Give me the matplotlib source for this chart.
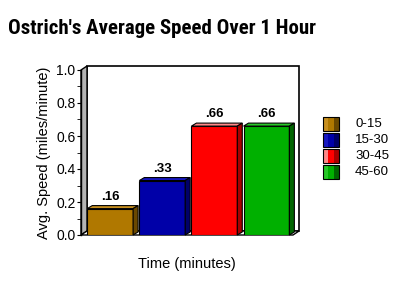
import matplotlib
matplotlib.use("Agg")
import matplotlib.pyplot as plt
from matplotlib.patches import Polygon, Rectangle
from matplotlib import font_manager

# data
categories = ['0-15', '15-30', '30-45', '45-60']
speeds = [0.16, 0.33, 0.66, 0.66]
value_labels = ['.16', '.33', '.66', '.66']
front_colors = ['#B07800', '#0000A8', '#FF0000', '#00B000']
top_colors = ['#C89020', '#1818C0', '#FF8888', '#28C828']
side_colors = ['#6A4800', '#000068', '#A80000', '#006400']

# pick a condensed font for the title if one exists
names = set(f.name for f in font_manager.fontManager.ttflist)
title_font = 'DejaVu Sans'
for cand in ['Liberation Sans Narrow', 'DejaVu Sans Condensed', 'Roboto Condensed', 'Open Sans Condensed']:
    if cand in names:
        title_font = cand
        break

plt.rcParams['font.family'] = ['Liberation Sans', 'DejaVu Sans']

fig = plt.figure(figsize=(4, 3), dpi=100)
fig.patch.set_facecolor('white')

# axes placed in pixel terms: x 81..293, y(0)=235, y(1)=70
ax = fig.add_axes([81 / 400, (300 - 235) / 300, 212 / 400, 165 / 300])
ax.set_xlim(-0.56, 3.51)
ax.set_ylim(0, 1)
ax.patch.set_alpha(0)

px_x = 52.0   # pixels per x unit
px_y = 165.0  # pixels per y unit
wdx, wdy = 6 / px_x, 4 / px_y   # wall depth
bdx, bdy = 5 / px_x, 3 / px_y   # bar depth
x0, x1 = ax.get_xlim()

# back wall, left wall, floor
ax.add_patch(Rectangle((x0 + wdx, wdy), x1 - x0, 1, facecolor='white',
                       edgecolor='black', lw=1.2, zorder=0, clip_on=False))
ax.add_patch(Polygon([(x0, 0), (x0 + wdx, wdy), (x0 + wdx, 1 + wdy), (x0, 1)],
                     closed=True, facecolor='#B4B4B4', edgecolor='black', lw=1,
                     zorder=1, clip_on=False))
ax.add_patch(Polygon([(x0, 0), (x1, 0), (x1 + wdx, wdy), (x0 + wdx, wdy)],
                     closed=True, facecolor='white', edgecolor='black', lw=1,
                     zorder=1, clip_on=False))

width = 0.88
xs = range(len(categories))
bars = ax.bar(xs, speeds, width=width, color=front_colors, edgecolor='black',
              linewidth=0.8, zorder=3)
for i, b in enumerate(bars):
    l = b.get_x()
    r = l + b.get_width()
    h = b.get_height()
    ax.add_patch(Polygon([(l, h), (l + bdx, h + bdy), (r + bdx, h + bdy), (r, h)],
                         closed=True, facecolor=top_colors[i], edgecolor='black',
                         lw=0.8, zorder=3, clip_on=False))
    ax.add_patch(Polygon([(r, 0), (r + bdx, bdy), (r + bdx, h + bdy), (r, h)],
                         closed=True, facecolor=side_colors[i], edgecolor='black',
                         lw=0.8, zorder=3, clip_on=False))
    ax.annotate(value_labels[i], xy=(i, h + bdy), xytext=(0, 2),
                textcoords='offset points', ha='center', va='bottom',
                fontsize=9.5, fontweight='bold')

for s in ['top', 'right', 'bottom']:
    ax.spines[s].set_visible(False)
ax.spines['left'].set_linewidth(1)
ax.set_xticks([])
ax.set_yticks([0, 0.2, 0.4, 0.6, 0.8, 1.0])
ax.set_yticks([0.1, 0.3, 0.5, 0.7, 0.9], minor=True)
ax.set_yticklabels(['0.0', '0.2', '0.4', '0.6', '0.8', '1.0'])
ax.tick_params(axis='y', which='major', length=3, labelsize=10, pad=1)
ax.tick_params(axis='y', which='minor', length=3)

ax.set_ylabel('Avg. Speed (miles/minute)', fontsize=10.5, labelpad=4)
ax.set_xlabel('Time (minutes)', fontsize=10.5, labelpad=16)

fig.text(8 / 400, 1 - 29 / 300, "Ostrich's Average Speed Over 1 Hour",
         fontsize=15, fontweight='bold', family=title_font, va='center', ha='left')

# legend drawn by hand with three tone swatches
for i, cat in enumerate(categories):
    top = 117 + 16 * i
    sw = 16 / 3
    for j, c in enumerate([top_colors[i], front_colors[i], side_colors[i]]):
        fig.patches.append(Rectangle(((323 + j * sw) / 400, 1 - (top + 14) / 300),
                                     sw / 400, 14 / 300, facecolor=c, edgecolor='none',
                                     transform=fig.transFigure, figure=fig))
    fig.patches.append(Rectangle((323 / 400, 1 - (top + 14) / 300), 16 / 400, 14 / 300,
                                 facecolor='none', edgecolor='black', lw=0.8,
                                 transform=fig.transFigure, figure=fig))
    fig.text(355 / 400, 1 - (top + 7) / 300, cat, fontsize=9.5, va='center', ha='left')

fig.savefig('out.png', dpi=100)
